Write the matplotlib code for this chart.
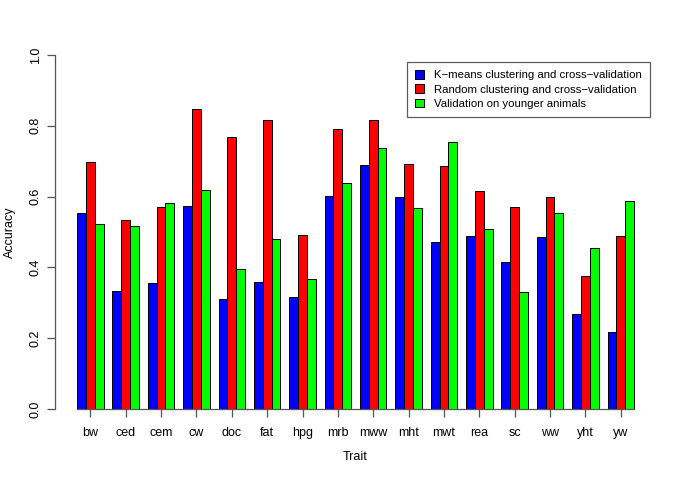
import numpy as np
import matplotlib.pyplot as plt

plt.rcParams['font.family'] = ['Liberation Sans', 'DejaVu Sans']

traits = ['bw', 'ced', 'cem', 'cw', 'doc', 'fat', 'hpg', 'mrb', 'mww', 'mht',
          'mwt', 'rea', 'sc', 'ww', 'yht', 'yw']
kmeans = [0.553, 0.332, 0.356, 0.574, 0.312, 0.359, 0.317, 0.602, 0.688, 0.600,
          0.471, 0.488, 0.415, 0.487, 0.269, 0.217]
random_cv = [0.699, 0.533, 0.572, 0.847, 0.767, 0.817, 0.491, 0.791, 0.815, 0.693,
             0.687, 0.616, 0.571, 0.598, 0.377, 0.490]
younger = [0.522, 0.517, 0.581, 0.618, 0.395, 0.481, 0.366, 0.638, 0.736, 0.569,
           0.754, 0.509, 0.330, 0.553, 0.455, 0.587]
series_names = ['K\u2212means clustering and cross\u2212validation',
                'Random clustering and cross\u2212validation',
                'Validation on younger animals']
colors = ['#0000FF', '#FF0000', '#00FF00']

W, H = 685, 479
fig = plt.figure(figsize=(W / 100, H / 100), dpi=100)
ax = fig.add_axes([54.8 / W, 1 - 423.2 / H, (656.3 - 54.8) / W, (423.2 - 40.8) / H])

# R style barplot positions: groups of 3 bars, one bar gap between groups
g = np.arange(len(traits))
for i, (vals, c, name) in enumerate(zip([kmeans, random_cv, younger], colors, series_names)):
    ax.bar(1 + 4 * g + i, vals, width=1, align='edge', color=c,
           edgecolor='black', linewidth=0.7, label=name)

ax.set_xlim(-1.52, 66.52)
ax.set_ylim(-0.04, 1.04)

for s in ['top', 'right']:
    ax.spines[s].set_visible(False)
ax.spines['left'].set_bounds(0, 1)
ax.spines['bottom'].set_position(('data', 0))
ax.spines['bottom'].set_bounds(1, 64)
for s in ['left', 'bottom']:
    ax.spines[s].set_color('#555555')
    ax.spines[s].set_linewidth(0.9)

ax.set_xticks(4 * g + 2.5)
ax.set_xticklabels(traits)
ax.set_yticks(np.arange(0, 1.01, 0.2))
ax.set_yticklabels(['%.1f' % v for v in np.arange(0, 1.01, 0.2)], rotation=90, va='center')
ax.tick_params(axis='both', colors='#555555', labelcolor='black', length=6, width=0.9, labelsize=9)
ax.tick_params(axis='x', pad=7)
ax.tick_params(axis='y', pad=3.5)

fig.text(10 / W, 1 - 232 / H, 'Accuracy', rotation=90, ha='center', va='center', fontsize=9)
fig.text(355 / W, 1 - 457 / H, 'Trait', ha='center', va='center', fontsize=9)

leg = ax.legend(loc='upper right', bbox_to_anchor=(650 / W, 1 - 62 / H),
                bbox_transform=fig.transFigure, borderaxespad=0, fontsize=8.2,
                frameon=True, fancybox=False, handlelength=0.8, handleheight=0.8,
                handletextpad=0.9, labelspacing=0.35, borderpad=0.7)
leg.get_frame().set_edgecolor('#333333')
leg.get_frame().set_linewidth(0.9)

fig.savefig('out.png', dpi=100)
